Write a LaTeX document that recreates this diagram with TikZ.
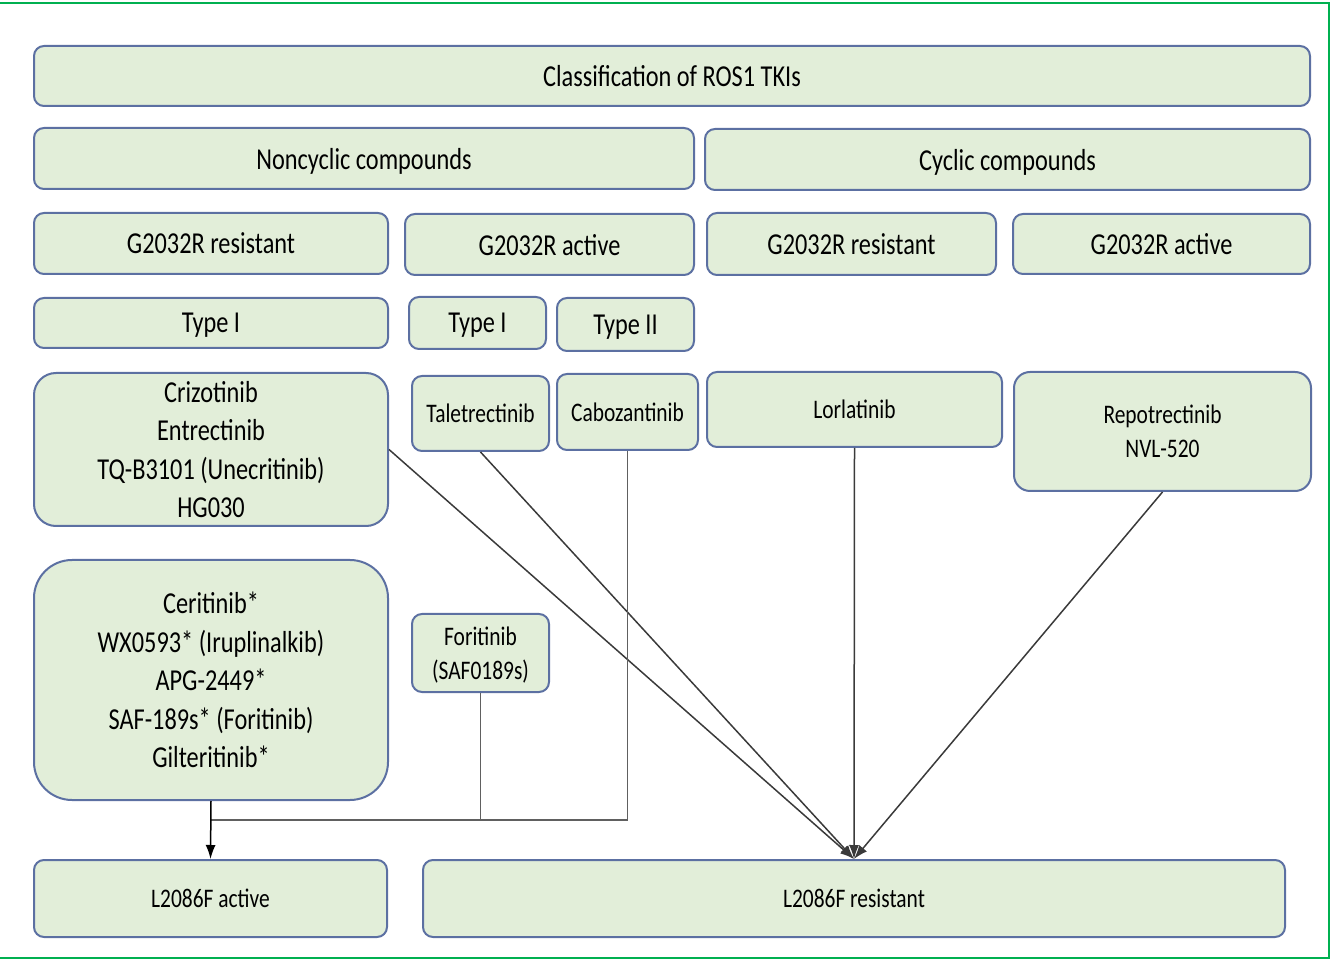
\documentclass[tikz,border=0pt]{standalone}
\usepackage{fontspec}
\setmainfont{Carlito}[FakeStretch=0.8]
\usepackage{tikz}
\usetikzlibrary{arrows.meta, positioning, calc}
\definecolor{TKfill}{HTML}{E2EED9}
\definecolor{TKedge}{HTML}{5C70A2}
\definecolor{TKline}{HTML}{3A3A3A}
\definecolor{TKgrey}{HTML}{606060}
\definecolor{TKframe}{HTML}{00B050}
\tikzset{
  tkbox/.style={
    rectangle, rounded corners=5pt, draw=TKedge, line width=1pt,
    fill=TKfill, text=black, align=center, inner sep=0pt, text depth=0pt,
    font=\fontsize{15.2}{19.25}\selectfont},
  tksmall/.style={tkbox, font=\fontsize{13.4}{17}\selectfont},
  tkarr/.style={-{Latex[length=7pt,width=5pt]}, line width=0.75pt, draw=TKline},
  tkjoin/.style={line width=0.8pt, draw=TKgrey},
}

\begin{document}
\begin{tikzpicture}[x=0.5pt, y=-0.5pt]
  \useasboundingbox (0,0) rectangle (1332,961);
  \draw[TKframe, line width=1.2pt] (-4,3) rectangle (1329,958);
  %% Header rows
  \node[tkbox, minimum width=638pt, minimum height=30pt] (title) at (672,76)
        {Classification of ROS1 TKIs};
  \node[tkbox, minimum width=330pt, minimum height=30.5pt] (noncyc) at (364,158.5)
        {Noncyclic compounds};
  \node[tkbox, minimum width=302.5pt, minimum height=30.5pt] (cyc) at (1007.5,159.5)
        {Cyclic compounds};
  \node[tkbox, minimum width=177pt, minimum height=30.5pt] (resL) at (211,243.5)
        {G2032R resistant};
  \node[tkbox, minimum width=144.5pt, minimum height=30.5pt] (actM) at (549.5,244.5)
        {G2032R active};
  \node[tkbox, minimum width=144.5pt, minimum height=31pt] (resR) at (851.5,244)
        {G2032R resistant};
  \node[tkbox, minimum width=148.5pt, minimum height=30pt] (actR) at (1161.5,244)
        {G2032R active};
  \node[tkbox, minimum width=177pt, minimum height=25pt] (typeL) at (211,323)
        {Type I};
  \node[tkbox, minimum width=68.5pt, minimum height=26pt] (typeM) at (477.5,323)
        {Type I};
  \node[tkbox, minimum width=68.5pt, minimum height=26.5pt] (typeII) at (625.5,324.5)
        {Type II};
  %% Drug boxes
  \node[tkbox, rounded corners=11pt, minimum width=177pt, minimum height=76.5pt] (crizo) at (211,449.5)
        {Crizotinib\\Entrectinib\\TQ-B3101 (Unecritinib)\\HG030};
  \node[tksmall, minimum width=68.5pt, minimum height=37.5pt] (tale) at (480.5,413.5)
        {Taletrectinib};
  \node[tksmall, minimum width=70.5pt, minimum height=38pt] (cabo) at (627.5,412)
        {Cabozantinib};
  \node[tksmall, minimum width=147.5pt, minimum height=37.5pt] (lorla) at (854.5,409.5)
        {Lorlatinib};
  \node[tksmall, rounded corners=8pt, minimum width=148.5pt, minimum height=59.5pt] (repo) at (1162.5,431.5)
        {Repotrectinib\\NVL-520};
  \node[tkbox, rounded corners=19pt, minimum width=177pt, minimum height=120pt] (ceri) at (211,680)
        {Ceritinib*\\WX0593* (Iruplinalkib)\\APG-2449*\\SAF-189s* (Foritinib)\\Gilteritinib*};
  \node[tksmall, minimum width=68.5pt, minimum height=39pt] (fori) at (480.5,653)
        {Foritinib\\(SAF0189s)};
  %% Outcome boxes
  \node[tksmall, minimum width=176.5pt, minimum height=38.5pt] (actF) at (210.5,898.5)
        {L2086F active};
  \node[tksmall, minimum width=431pt, minimum height=38.5pt] (resF) at (854,898.5)
        {L2086F resistant};
  %% Connectors
  \coordinate (join) at (210,820);
  \draw[tkarr] (crizo.east) -- (resF.north);
  \draw[tkarr] (tale.south) -- (resF.north);
  \draw[tkarr] (lorla.south) -- (resF.north);
  \draw[tkarr] (repo.south) -- (resF.north);
  \draw[tkjoin] (cabo.south) |- (join);
  \draw[tkjoin] (fori.south) -- (fori.south |- join);
  \draw[tkarr, draw=black] (ceri.south) -- (actF.north);
\end{tikzpicture}
\end{document}
